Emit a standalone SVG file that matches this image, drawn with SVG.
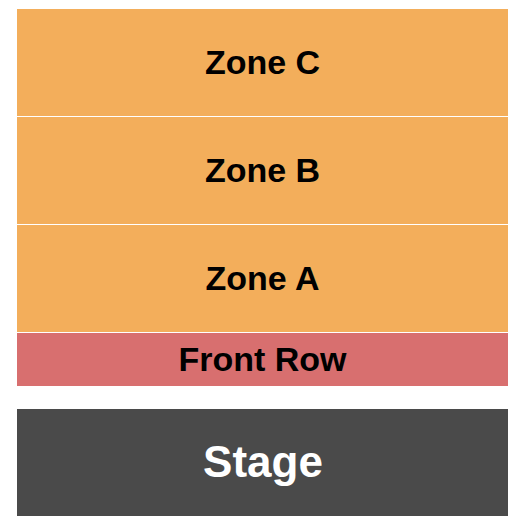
<svg xmlns="http://www.w3.org/2000/svg" width="525" height="525" viewBox="0 0 525 525">
<style>
.zone{fill:#F3AE5B}
.front{fill:#D86F6F}
.stage{fill:#4A4A4A}
.lbl{font-family:"Liberation Sans",Arial,sans-serif;font-weight:bold;font-size:34px;text-anchor:middle;fill:#000}
.slbl{font-family:"Liberation Sans",Arial,sans-serif;font-weight:bold;font-size:44px;text-anchor:middle;fill:#fff}
</style>
<rect width="525" height="525" fill="#fff"/>
<g id="zone-c"><rect class="zone" x="17" y="9" width="491" height="107"/><text class="lbl" x="262.5" y="74">Zone C</text></g>
<g id="zone-b"><rect class="zone" x="17" y="117" width="491" height="107"/><text class="lbl" x="262.5" y="182">Zone B</text></g>
<g id="zone-a"><rect class="zone" x="17" y="225" width="491" height="107"/><text class="lbl" x="262.5" y="290">Zone A</text></g>
<g id="front-row"><rect class="front" x="17" y="333" width="491" height="53"/><text class="lbl" x="262.5" y="371">Front Row</text></g>
<g id="stage"><rect class="stage" x="17" y="409" width="491" height="107"/><text class="slbl" x="263" y="477">Stage</text></g>
<g id="connectors"></g>
</svg>
